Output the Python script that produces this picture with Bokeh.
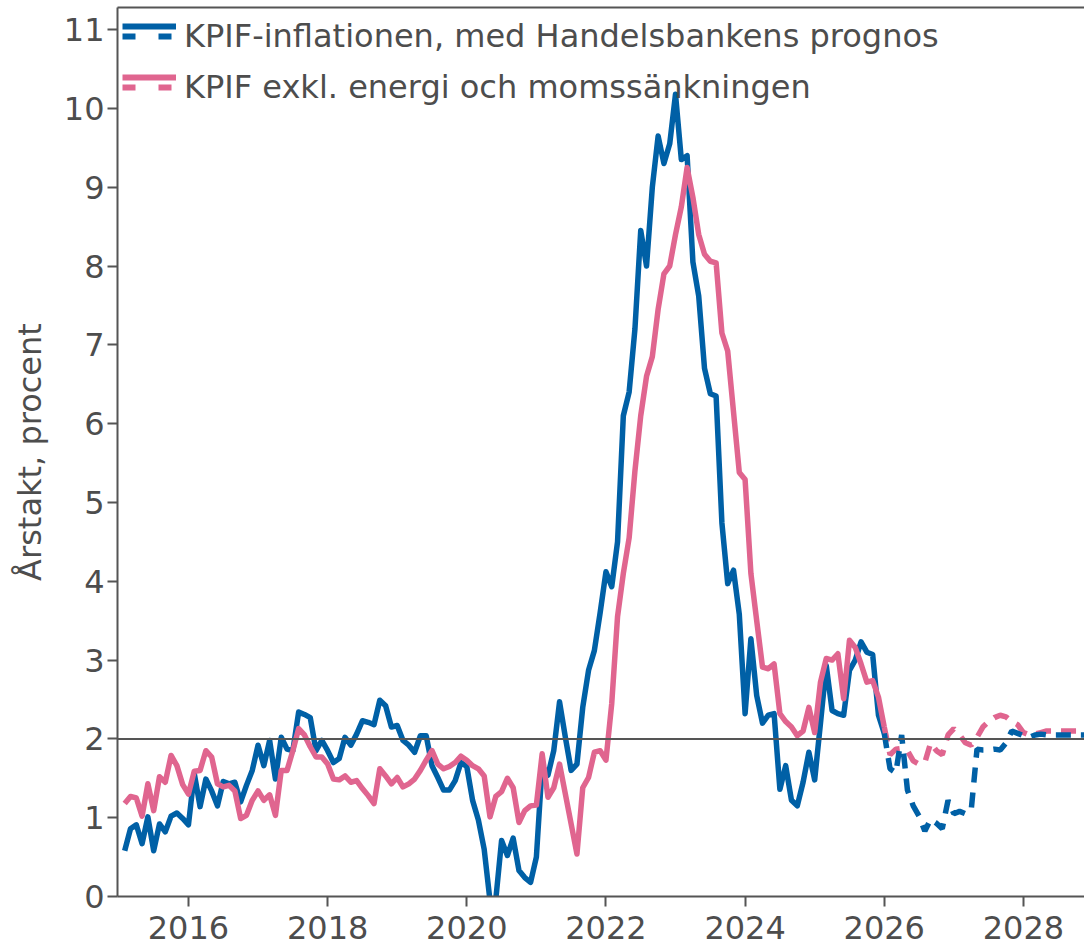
import pandas as pd
from bokeh.plotting import figure
from bokeh.models import Range1d, FixedTicker, LinearAxis, Span, Legend, LegendItem
from bokeh.embed import file_html
from bokeh.resources import INLINE

# ---------------- data ----------------
hist_first, hist_last = "2015-01", "2025-12"
fc_first, fc_last = "2025-12", "2028-12"

# KPIF, annual rate (%), Jan 2015 - Dec 2025
kpif = [
    0.58, 0.86, 0.91, 0.67, 1.01, 0.58, 0.92, 0.82, 1.02, 1.06, 0.99, 0.91,
    1.56, 1.14, 1.49, 1.34, 1.15, 1.46, 1.43, 1.45, 1.20, 1.41, 1.60, 1.92,
    1.66, 1.98, 1.49, 2.02, 1.87, 1.85, 2.34, 2.31, 2.27, 1.85, 1.98, 1.85,
    1.70, 1.75, 2.02, 1.92, 2.06, 2.23, 2.21, 2.18, 2.49, 2.42, 2.15, 2.17,
    1.98, 1.92, 1.83, 2.04, 2.04, 1.66, 1.51, 1.35, 1.35, 1.47, 1.70, 1.65,
    1.22, 0.97, 0.60, -0.05, -0.04, 0.71, 0.52, 0.74, 0.33, 0.24, 0.18, 0.50,
    1.66, 1.54, 1.85, 2.47, 2.02, 1.60, 1.68, 2.40, 2.87, 3.12, 3.60, 4.12,
    3.93, 4.50, 6.10, 6.40, 7.20, 8.45, 8.00, 9.00, 9.65, 9.30, 9.55, 10.18,
    9.35, 9.40, 8.05, 7.62, 6.70, 6.38, 6.35, 4.74, 3.97, 4.14, 3.58, 2.32,
    3.27, 2.55, 2.20, 2.30, 2.32, 1.36, 1.66, 1.22, 1.15, 1.45, 1.83, 1.48,
    2.20, 2.93, 2.36, 2.32, 2.30, 2.87, 3.00, 3.23, 3.10, 3.07, 2.30, 2.07,
]

# KPIF excl. energy and the VAT cut (%), Jan 2015 - Dec 2025
kpif_xe = [
    1.18, 1.27, 1.25, 1.02, 1.43, 1.09, 1.52, 1.45, 1.79, 1.66, 1.42, 1.30,
    1.59, 1.60, 1.85, 1.77, 1.43, 1.39, 1.41, 1.34, 0.99, 1.03, 1.22, 1.34,
    1.22, 1.29, 1.03, 1.60, 1.60, 1.85, 2.13, 2.05, 1.90, 1.77, 1.77, 1.68,
    1.49, 1.48, 1.53, 1.45, 1.47, 1.37, 1.28, 1.18, 1.62, 1.53, 1.43, 1.51,
    1.39, 1.43, 1.49, 1.60, 1.73, 1.85, 1.68, 1.62, 1.65, 1.70, 1.78, 1.73,
    1.66, 1.62, 1.53, 1.01, 1.27, 1.33, 1.50, 1.38, 0.94, 1.09, 1.15, 1.16,
    1.81, 1.26, 1.38, 1.68, 1.30, 0.92, 0.54, 1.38, 1.51, 1.83, 1.85, 1.73,
    2.45, 3.55, 4.10, 4.55, 5.40, 6.10, 6.60, 6.85, 7.45, 7.90, 8.00, 8.40,
    8.75, 9.25, 8.87, 8.40, 8.15, 8.06, 8.04, 7.15, 6.92, 6.15, 5.38, 5.29,
    4.10, 3.50, 2.91, 2.89, 2.95, 2.32, 2.22, 2.15, 2.04, 2.10, 2.40, 2.08,
    2.72, 3.02, 3.00, 3.08, 2.51, 3.25, 3.16, 2.95, 2.72, 2.74, 2.53, 2.15,
]

# Handelsbanken forecast, Dec 2025 - Dec 2028
kpif_fc = [
    2.07, 1.62, 1.57, 2.05, 1.35, 1.15, 1.02, 0.83, 0.98, 0.93, 0.86, 1.22, 1.05,
    1.08, 1.05, 1.10, 1.87, 1.86, 1.86, 1.87, 1.86, 1.95, 2.10, 2.07, 2.04,
    2.02, 2.05, 2.06, 2.05, 2.05, 2.05, 2.05, 2.05, 2.05, 2.05, 2.05, 2.05,
]
kpif_xe_fc = [
    2.15, 1.80, 1.87, 1.88, 1.85, 1.72, 1.68, 1.70, 1.95, 1.85, 1.80, 2.05, 2.13,
    2.05, 1.95, 1.92, 2.02, 2.15, 2.22, 2.27, 2.30, 2.28, 2.22, 2.18, 2.08,
    2.05, 2.06, 2.08, 2.10, 2.10, 2.10, 2.10, 2.10, 2.10, 2.10, 2.10, 2.10,
]

x_ticks = [2016, 2018, 2020, 2022, 2024, 2026, 2028]
y_ticks = list(range(0, 12))
series_labels = ["KPIF-inflationen, med Handelsbankens prognos",
                 "KPIF exkl. energi och momssänkningen"]
y_label = "Årstakt, procent"
target_level = 2

# ---------------- styling ----------------
BLUE = "#0060A6"
PINK = "#E0658F"
AXIS = "#555555"
TEXT = "#4d4d4d"
FONT = "DejaVu Sans"
FS = "32px"
LW = 5.5
NAN = float("nan")


def month_x(first, last):
    per = pd.period_range(first, last, freq="M")
    return [q.year + q.month / 12 for q in per]


x_hist = month_x(hist_first, hist_last)
x_fc = month_x(fc_first, fc_last)

p = figure(width=1084, height=949, output_backend="svg", toolbar_location=None,
           x_range=Range1d(2014.98, 2028.878), y_range=Range1d(0, 11.28),
           min_border_left=117, min_border_right=0, min_border_top=7,
           min_border_bottom=53)
p.grid.visible = False
p.outline_line_color = None
p.background_fill_color = "white"

for ax in (p.xaxis[0], p.yaxis[0]):
    ax.axis_line_color = AXIS
    ax.axis_line_width = 2
    ax.major_tick_line_color = AXIS
    ax.major_tick_line_width = 2
    ax.major_tick_out = 10
    ax.major_tick_in = 0
    ax.minor_tick_line_color = None
    ax.major_label_text_font = FONT
    ax.major_label_text_font_size = FS
    ax.major_label_text_color = TEXT

p.xaxis.ticker = FixedTicker(ticks=x_ticks)
p.yaxis.ticker = FixedTicker(ticks=y_ticks)
p.xaxis.major_label_standoff = 9
p.yaxis.major_label_standoff = 3
p.yaxis.axis_label = y_label
p.yaxis.axis_label_text_font = FONT
p.yaxis.axis_label_text_font_size = FS
p.yaxis.axis_label_text_font_style = "normal"
p.yaxis.axis_label_text_color = TEXT
p.yaxis.axis_label_standoff = 12

top_axis = LinearAxis(ticker=FixedTicker(ticks=[]), axis_line_color=AXIS,
                      axis_line_width=2, major_tick_line_color=None,
                      minor_tick_line_color=None, major_label_text_font_size="0px")
p.add_layout(top_axis, "above")

p.line(x_hist, kpif, line_color=BLUE, line_width=LW, line_join="round")
p.line(x_hist, kpif_xe, line_color=PINK, line_width=LW, line_join="round")
p.line(x_fc, kpif_xe_fc, line_color=PINK, line_width=LW, line_dash="15 10")
p.line(x_fc, kpif_fc, line_color=BLUE, line_width=LW, line_dash="15 10")

p.add_layout(Span(location=target_level, dimension="width",
                  line_color=AXIS, line_width=2))

# legend-only glyph renderers (a single NaN point, so nothing is drawn in the plot)
leg_b_solid = p.line(x=[NAN], y=[NAN], line_color=BLUE, line_width=6)
leg_p_solid = p.line(x=[NAN], y=[NAN], line_color=PINK, line_width=6)
leg_b_dash = p.line(x=[NAN], y=[NAN], line_color=BLUE, line_width=6, line_dash="13 23")
leg_p_dash = p.line(x=[NAN], y=[NAN], line_color=PINK, line_width=6, line_dash="13 23")

common = dict(glyph_width=54, glyph_height=40, label_height=40, spacing=11,
              padding=0, margin=0, label_standoff=8, border_line_color=None,
              background_fill_alpha=0, label_text_font=FONT,
              label_text_font_size=FS, label_text_color=TEXT)

leg_solid = Legend(items=[LegendItem(label="", renderers=[leg_b_solid]),
                          LegendItem(label="", renderers=[leg_p_solid])],
                   location=(5, 799), **common)
leg_dash = Legend(items=[LegendItem(label=series_labels[0], renderers=[leg_b_dash]),
                         LegendItem(label=series_labels[1], renderers=[leg_p_dash])],
                  location=(5, 789), **common)
p.add_layout(leg_solid)
p.add_layout(leg_dash)

open("out.html", "w").write(file_html(p, INLINE))
